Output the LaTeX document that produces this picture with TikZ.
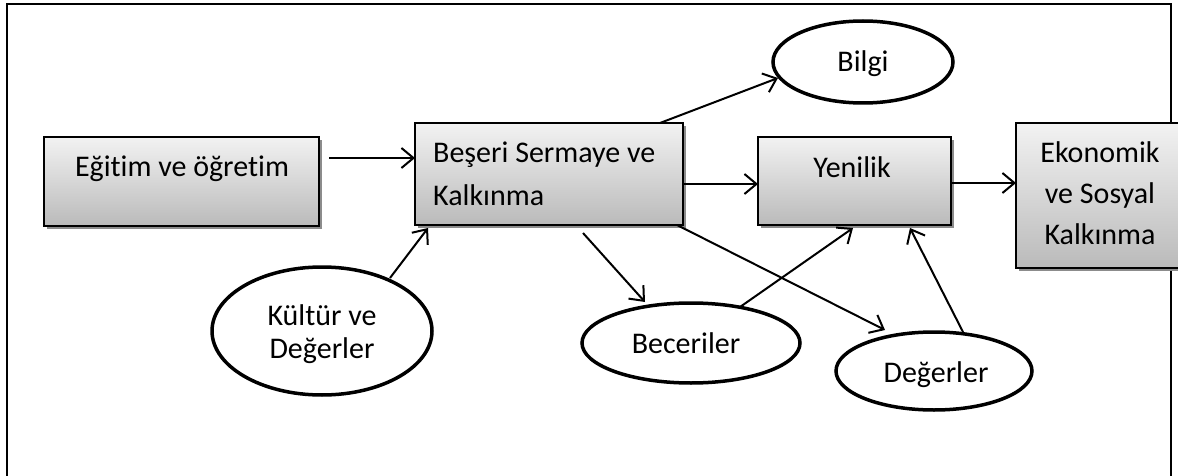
\documentclass[tikz,border=0pt]{standalone}
\usepackage{fontspec}
\setmainfont{Carlito}[Ligatures={NoCommon}]
\usetikzlibrary{arrows.meta,shadows,shapes.geometric}
\tikzset{
  boxnode/.style={draw=black, line width=2pt, rectangle, inner sep=0pt,
    top color=black!5, bottom color=black!27,
    drop shadow={shadow xshift=3pt, shadow yshift=-3pt, fill=black!45, opacity=1}},
  ellnode/.style={draw=black, line width=3.5pt, ellipse, inner sep=0pt, fill=white},
  txt/.style={anchor=base, inner sep=0pt, font=\fontsize{30}{36}\selectfont},
  txtl/.style={anchor=base west, inner sep=0pt, font=\fontsize{30}{36}\selectfont},
  arr/.style={line width=2pt, -{Straight Barb[length=12pt, width=20pt, line width=2pt]}},
}
\begin{document}
\begin{tikzpicture}[x=1pt,y=-1pt]
\useasboundingbox (0,0) rectangle (1178,476);
\clip (0,0) rectangle (1178,476);
\fill[white] (0,0) rectangle (1178,476);
% frame
\draw[line width=2pt] (6.5,490) -- (6.5,4) -- (1171,4) -- (1171,490);
\node[boxnode, minimum width=275pt, minimum height=89pt] (edu) at (181.5,181.5) {};
\node[boxnode, minimum width=268pt, minimum height=102pt] (bes) at (549,174) {};
\node[boxnode, minimum width=193pt, minimum height=88pt] (yen) at (854.5,181) {};
\node[boxnode, minimum width=168pt, minimum height=145pt] (eko) at (1100,195.5) {};
\node[ellnode, minimum width=180pt, minimum height=82pt] (bilgi) at (863,62) {};
\node[ellnode, minimum width=220pt, minimum height=128pt] (kul) at (322,331) {};
\node[ellnode, minimum width=218pt, minimum height=80pt] (bec) at (691,343) {};
\node[ellnode, minimum width=196pt, minimum height=78pt] (deg) at (934,371) {};
% texts
\node[txt] (t1) at (182,176) {Eğitim ve öğretim};
\node[txtl] (t2) at (433,163) {Beşeri Sermaye ve};
\node[txtl] (t3) at (433,205) {Kalkınma};
\node[txt] (t4) at (852,177) {Yenilik};
\node[txt] (t5) at (1100,163) {Ekonomik};
\node[txt] (t6) at (1100,203.5) {ve Sosyal};
\node[txt] (t7) at (1100,244) {Kalkınma};
\node[txt] (t8) at (863,72) {Bilgi};
\node[txt] (t9) at (322,325) {Kültür ve};
\node[txt] (t10) at (322,358) {Değerler};
\node[txt] (t11) at (686,353) {Beceriler};
\node[txt] (t12) at (936,382) {Değerler};
% connectors
\draw[arr] ([shift={(147.5,-23.5)}]edu.center) -- ([shift={(-134,-16)}]bes.center);
\draw[arr] ([shift={(68,-53)}]kul.center) -- ([shift={(-121,54)}]bes.center);
\draw[arr] ([shift={(111,-51)}]bes.center) -- ([shift={(-85,16)}]bilgi.center);
\draw[arr] ([shift={(134,10)}]bes.center) -- ([shift={(-96.5,3)}]yen.center);
\draw[arr] ([shift={(34,59)}]bes.center) -- ([shift={(-46,-41)}]bec.center);
\draw[arr] ([shift={(128,51)}]bes.center) -- ([shift={(-49,-41)}]deg.center);
\draw[arr] ([shift={(49,-36)}]bec.center) -- ([shift={(-1.5,47)}]yen.center);
\draw[arr] ([shift={(29,-39)}]deg.center) -- ([shift={(55.5,47)}]yen.center);
\draw[arr] ([shift={(96.5,2)}]yen.center) -- ([shift={(-84,-12.5)}]eko.center);
\end{tikzpicture}
\end{document}
